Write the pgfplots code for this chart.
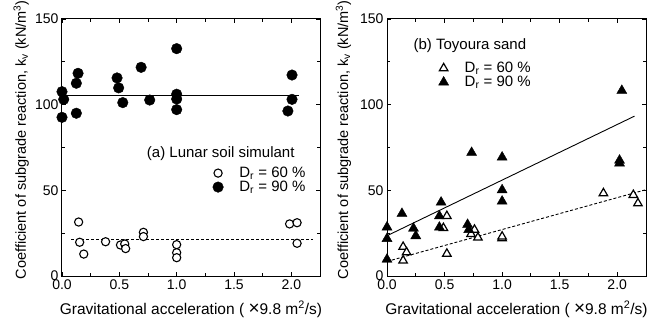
\documentclass[border=0pt]{standalone}
\usepackage{fontspec}
\setmainfont{Liberation Sans}
\usepackage{pgfplots}
\pgfplotsset{compat=1.18}
\pgfplotsset{
  myaxis/.style={
    scale only axis, anchor=south west,
    xmin=0, xmax=2.25, ymin=0, ymax=150,
    xtick={0,0.5,1,1.5,2}, ytick={0,50,100,150},
    minor x tick num=1, minor y tick num=1,
    tick align=inside, major tick length=4pt, minor tick length=3pt,
    axis line style={line width=1pt},
    every tick/.style={line width=0.8pt, black},
    /pgf/number format/assume math mode=true,
    tick label style={font=\fontsize{14}{16}\selectfont},
    xticklabel style={/pgf/number format/.cd, fixed, fixed zerofill, precision=1},
    xlabel style={font=\fontsize{15.5}{17}\selectfont},
    ylabel style={font=\fontsize{14.5}{17}\selectfont},
    xlabel={Gravitational acceleration ( {\fontsize{19}{19}\selectfont ×}9.8 m\textsuperscript{2}/s)},
    ylabel={Coefficient of subgrade reaction, k\textsubscript{v} (kN/m\textsuperscript{3})},
    xlabel style={at={(axis description cs:0.5,-0.085)}, anchor=north},
    legend style={draw=none, fill=none, font=\fontsize{15}{17}\selectfont, column sep=14pt, row sep=-2pt},
    legend cell align=left,
  },
  openc/.style={only marks, mark=*, mark size=4.1pt, mark options={fill=white, draw=black, line width=1.1pt}},
  fillc/.style={only marks, mark=*, mark size=5.3pt, mark options={fill=black, draw=black}},
  opent/.style={only marks, mark=triangle*, mark size=4.9pt, mark options={fill=white, draw=black, line width=1.2pt}},
  fillt/.style={only marks, mark=triangle*, mark size=5.8pt, mark options={fill=black, draw=black}},
}
\begin{document}
\begin{tikzpicture}
\useasboundingbox (0,0) rectangle (656pt,322pt);
% ---------------- (a) ----------------
\begin{axis}[myaxis, at={(62pt,46pt)}, width=258pt, height=257pt,
  ylabel style={at={(axis description cs:-0.115,0.53)}, anchor=south},
  legend style={at={(axis description cs:0.572,0.44)}, anchor=north west}]
\addplot[openc] coordinates {
(0.145,31.5) (0.154,19.7) (0.19,12.8) (0.38,20.0) (0.51,18.1) (0.547,18.7)
(0.555,16.0) (0.71,25.5) (0.71,23.0) (1.0,18.3) (1.0,13.6) (1.0,10.7)
(1.985,30.4) (2.05,31.1) (2.05,19.1)};
\addlegendentry{D\textsubscript{r} = 60 \%}
\addplot[fillc] coordinates {
(0.0,107.6) (0.015,103.1) (0.0,92.6) (0.125,112.5) (0.14,118.3) (0.125,95.0)
(0.48,115.6) (0.494,109.8) (0.53,101.2) (0.69,121.8) (0.765,102.7)
(1.0,132.7) (1.0,106.1) (1.0,103.3) (1.0,97.1) (1.97,96.3) (2.006,117.3) (2.006,103.1)};
\addlegendentry{D\textsubscript{r} = 90 \%}
\addplot[black, line width=0.9pt, forget plot] coordinates {(0,105.5) (2.07,105.5)};
\addplot[black, line width=0.9pt, dash pattern=on 3pt off 2pt, forget plot] coordinates {(0.08,21.4) (2.19,21.4)};
\node[anchor=east, font=\fontsize{15}{17}\selectfont] at (axis description cs:0.915,0.475) {(a) Lunar soil simulant};
\end{axis}
% ---------------- (b) ----------------
\begin{axis}[myaxis, at={(387pt,46pt)}, width=259pt, height=257pt,
  ylabel style={at={(axis description cs:-0.125,0.53)}, anchor=south},
  legend style={at={(axis description cs:0.187,0.848)}, anchor=north west}]
\addplot[opent] coordinates {
(0.14,17.0) (0.17,13.8) (0.14,9.0) (0.52,35.0) (0.52,13.0) (0.49,28.0)
(0.73,24.5) (0.76,27.0) (0.79,22.4) (1.0,22.0) (1.0,23.0)
(1.88,48.3) (2.14,47.3) (2.18,42.4)};
\addlegendentry{D\textsubscript{r} = 60 \%}
\addplot[fillt] coordinates {
(0.0,28.5) (0.0,21.8) (0.0,9.7) (0.13,36.4) (0.23,27.8) (0.25,23.4)
(0.47,43.0) (0.455,35.0) (0.455,28.4) (0.70,30.0) (0.71,27.0) (0.735,72.0)
(1.0,69.3) (1.0,50.2) (1.0,43.6) (2.02,67.5) (2.02,65.8) (2.04,108.2)};
\addlegendentry{D\textsubscript{r} = 90 \%}
\addplot[black, line width=0.9pt, forget plot] coordinates {(0,23.5) (2.15,93.3)};
\addplot[black, line width=0.9pt, dash pattern=on 3pt off 2pt, forget plot] coordinates {(0,8.5) (2.24,50.2)};
\node[anchor=west, font=\fontsize{15}{17}\selectfont] at (axis description cs:0.089,0.895) {(b) Toyoura sand};
\end{axis}
\end{tikzpicture}
\end{document}
